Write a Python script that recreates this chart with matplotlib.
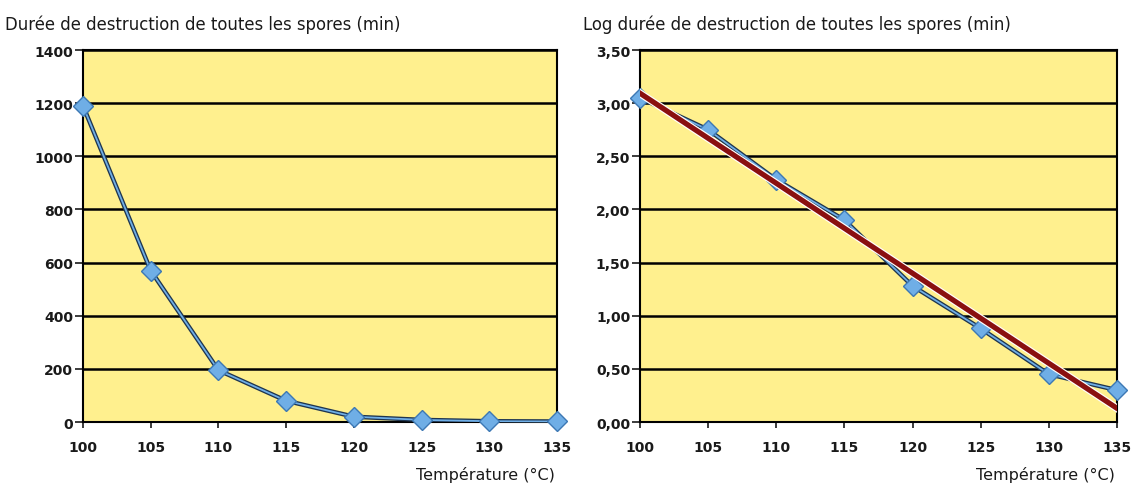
"""
Spore destruction time versus temperature, linear and log scale.
"""

import numpy as np
import matplotlib
matplotlib.use("Agg")
import matplotlib.pyplot as plt

temperature = [100, 105, 110, 115, 120, 125, 130, 135]
duration_min = [1190, 570, 195, 80, 20, 8, 3, 2]
log_duration = [3.05, 2.75, 2.28, 1.90, 1.28, 0.88, 0.45, 0.30]

left_yticks = [0, 200, 400, 600, 800, 1000, 1200, 1400]
right_yticks = [0.0, 0.5, 1.0, 1.5, 2.0, 2.5, 3.0, 3.5]
right_ylabels = ["0,00", "0,50", "1,00", "1,50", "2,00", "2,50", "3,00", "3,50"]

title_left = "Durée de destruction de toutes les spores (min)"
title_right = "Log durée de destruction de toutes les spores (min)"
xlabel = "Température (°C)"

YELLOW = "#FFF08E"
BLUE = "#6FAEE6"
DARK = "#1E3550"
RED = "#8A1010"
TEXT = "#1a1a1a"

plt.rcParams["font.family"] = ["DejaVu Sans"]

fig = plt.figure(figsize=(11.4, 4.85), dpi=100)
fig.patch.set_facecolor("white")


def style_axes(ax, yticks, ylabels):
    ax.set_facecolor(YELLOW)
    ax.set_xlim(100, 135)
    ax.set_ylim(yticks[0], yticks[-1])
    ax.set_xticks(temperature)
    ax.set_yticks(yticks)
    ax.set_yticklabels(ylabels)
    ax.grid(axis="y", color="black", linewidth=1.8)
    ax.set_axisbelow(True)
    for sp in ax.spines.values():
        sp.set_color("black")
        sp.set_linewidth(1.5)
    ax.tick_params(direction="out", width=1.2, labelsize=10,
                   colors=TEXT)
    ax.tick_params(axis="y", length=6, pad=1)
    ax.tick_params(axis="x", length=4, pad=9)
    for lab in ax.get_xticklabels() + ax.get_yticklabels():
        lab.set_fontweight("semibold")


def plot_series(ax, y):
    ax.plot(temperature, y, color=DARK, linewidth=3.2, zorder=3)
    ax.plot(temperature, y, color=BLUE, linewidth=1.3, zorder=4,
            marker="D", markersize=10, markerfacecolor=BLUE,
            markeredgecolor="#3C78B4", markeredgewidth=1.0, clip_on=False)


# Linear scale
ax1 = fig.add_axes([0.0728, 0.1278, 0.4158, 0.767])
style_axes(ax1, left_yticks, [str(v) for v in left_yticks])
plot_series(ax1, duration_min)
fig.text(0.004, 0.950, title_left, fontsize=11.9, color=TEXT,
         ha="left", va="center")
fig.text(0.487, 0.021, xlabel, fontsize=11.5, color=TEXT,
         ha="right", va="center")

# Log scale with linear trend
ax2 = fig.add_axes([0.5614, 0.1278, 0.4184, 0.767])
style_axes(ax2, right_yticks, right_ylabels)
plot_series(ax2, log_duration)
slope, intercept = np.polyfit(temperature, log_duration, 1)
tx = np.array([temperature[0], temperature[-1]])
ax2.plot(tx, slope*tx + intercept, color="white", linewidth=5.5, zorder=5)
ax2.plot(tx, slope*tx + intercept, color=RED, linewidth=3.8, zorder=6)
fig.text(0.511, 0.950, title_right, fontsize=11.9, color=TEXT,
         ha="left", va="center")
fig.text(0.978, 0.021, xlabel, fontsize=11.5, color=TEXT,
         ha="right", va="center")

fig.savefig("out.png", dpi=100)
